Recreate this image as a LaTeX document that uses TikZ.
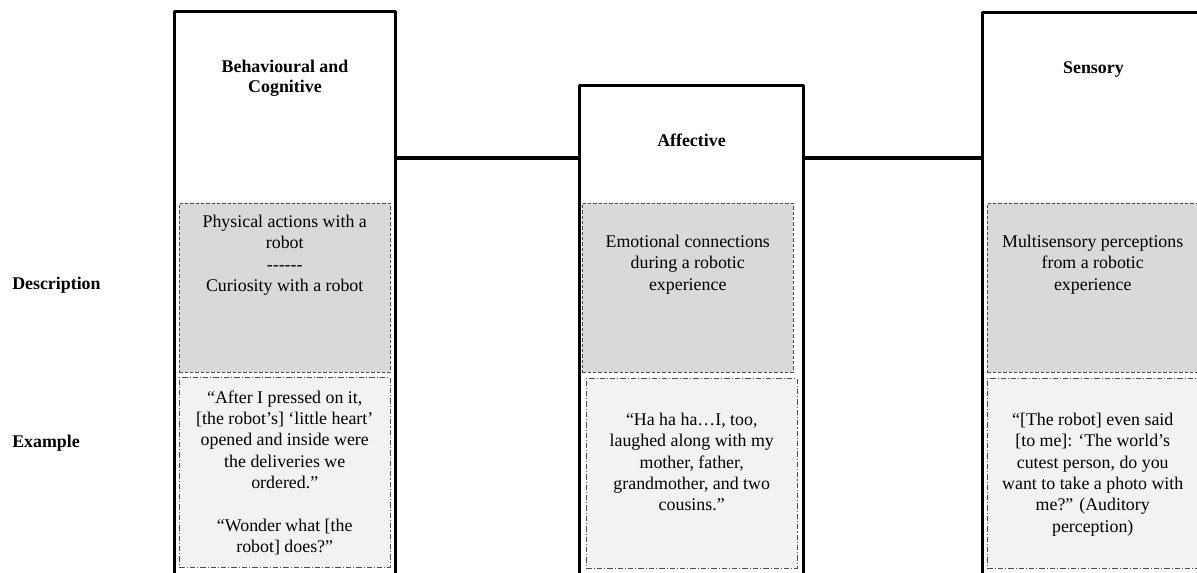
\documentclass[tikz,border=0pt]{standalone}
\usepackage{fontspec}
\setmainfont{Liberation Serif}
\usetikzlibrary{positioning}
\def\dashes{-\kern0pt-\kern0pt-\kern0pt-\kern0pt-\kern0pt-}

\begin{document}
\begin{tikzpicture}[x=0.75pt, y=-0.75pt, line join=round,
		font=\fontsize{13.4}{16}\selectfont,
		column/.style={draw, line width=2.2pt, anchor=north west, inner sep=0, minimum height=450pt},
		descbox/.style={draw=black!70, line width=0.6pt, dash pattern=on 2.5pt off 1.5pt, fill=black!15, anchor=north west, inner sep=0, minimum width=158pt, minimum height=126.75pt},
		exbox/.style={draw=black!70, line width=0.6pt, dash pattern=on 4pt off 1.5pt on 0.8pt off 1.5pt, fill=black!5, anchor=north west, inner sep=0, minimum width=158pt, minimum height=142.5pt},
		head/.style={font=\fontsize{13.4}{15}\selectfont\bfseries, align=center, anchor=north, inner sep=0},
		txt/.style={align=center, anchor=north, inner sep=0},
		rowlabel/.style={font=\fontsize{13.4}{16}\selectfont\bfseries, anchor=west, inner sep=0},
		link/.style={line width=3.2pt}]
	\useasboundingbox (0,0) rectangle (1197,573);
	\clip (0,0) rectangle (1197,573);
	% the three columns
	\node[column, minimum width=165.75pt] (cog) at (173,10) {};
	\node[column, minimum width=168pt] (aff) at (578,84) {};
	\node[column, minimum width=166.5pt] (sen) at (981,11) {};
	\coordinate (joint) at (0,158);
	\draw[link] (cog.east |- joint) -- (aff.west |- joint);
	\draw[link] (aff.east |- joint) -- (sen.west |- joint);
	% headings
	\node[head, below=37.5pt of cog.north] (coghead) {Behavioural and\\Cognitive};
	\node[head, below=37.5pt of aff.north] (affhead) {Affective};
	\node[head, below=37.5pt of sen.north] (senhead) {Sensory};
	% row labels
	\node[rowlabel] (rowdesc) at (12,285) {Description};
	\node[rowlabel] (rowex) at (12,443) {Example};
	% description boxes
	\node[descbox] (cogdesc) at (179,203) {};
	\node[descbox] (affdesc) at (582,203) {};
	\node[descbox] (sendesc) at (987,203) {};
	\node[txt, below=9pt of cogdesc.north] (cogdesctext) {Physical actions with a\\robot\\\dashes\\Curiosity with a robot};
	\node[txt, below=24pt of affdesc.north] (affdesctext) {Emotional connections\\during a robotic\\experience};
	\node[txt, below=24pt of sendesc.north] (sendesctext) {Multisensory perceptions\\from a robotic\\experience};
	% example boxes
	\node[exbox] (cogex) at (179,377) {};
	\node[exbox] (affex) at (586,378) {};
	\node[exbox] (senex) at (987,378) {};
	\node[txt, below=10pt of cogex.north] (cogextext) {“After I pressed on it,\\\relax[the robot’s] ‘little heart’\\opened and inside were\\the deliveries we\\ordered.”\\[16pt]“Wonder what [the\\robot] does?”};
	\node[txt, below=26.25pt of affex.north] (affextext) {“Ha ha ha…I, too,\\laughed along with my\\mother, father,\\grandmother, and two\\cousins.”};
	\node[txt, below=26.25pt of senex.north] (senextext) {“[The robot] even said\\\relax[to me]: ‘The world’s\\cutest person, do you\\want to take a photo with\\me?” (Auditory\\perception)};
\end{tikzpicture}
\end{document}
